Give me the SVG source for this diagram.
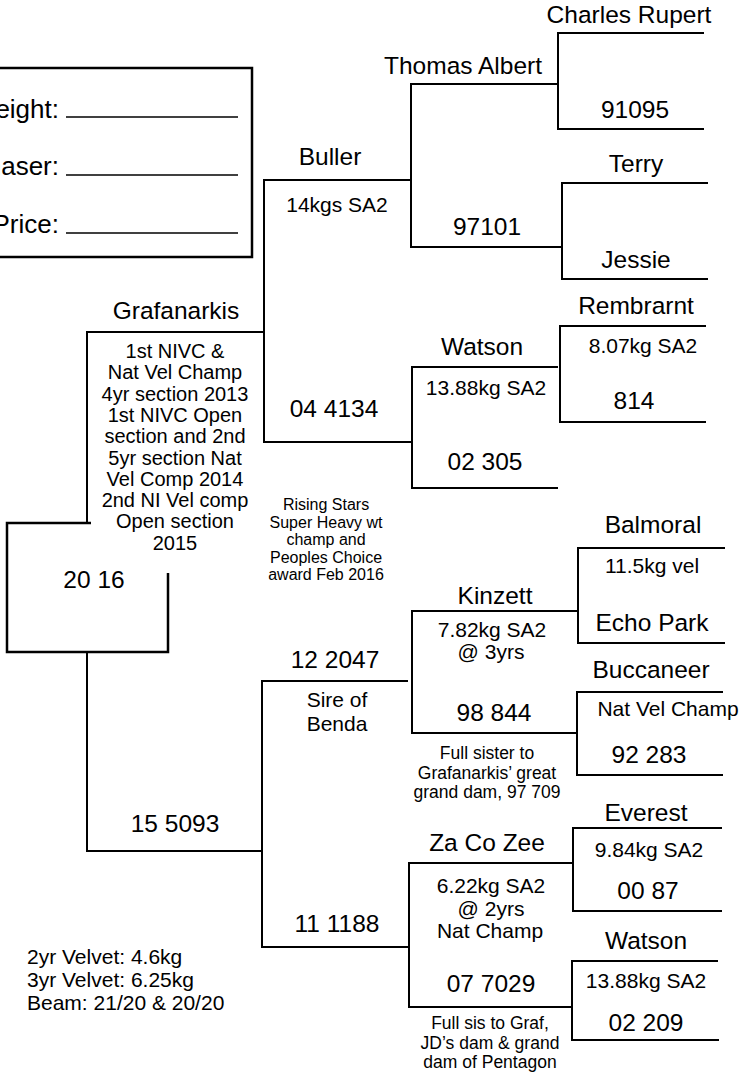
<svg xmlns="http://www.w3.org/2000/svg" width="744" height="1072" viewBox="0 0 744 1072">
<style>
text{font-family:"Liberation Sans",Arial,sans-serif;fill:#000;text-anchor:middle}
.b{font-size:24.5px}
.k{font-size:26px;text-anchor:end}
.m{font-size:21px}
.n{font-size:20px}
.s{font-size:16px}
.t{font-size:17.5px}
.l{font-size:21px;text-anchor:start}
.ln{fill:none;stroke:#000;stroke-width:2}
.bx{fill:none;stroke:#000;stroke-width:2.5}
.ul{stroke:#000;stroke-width:1.3}
</style>
<rect width="744" height="1072" fill="#fff"/>
<g id="info-box">
<rect class="bx" x="-10" y="68" width="262" height="189"/>
<text class="k" x="59" y="118">Weight:</text>
<line class="ul" x1="66" y1="117" x2="238" y2="117"/>
<text class="k" x="59" y="175">Purchaser:</text>
<line class="ul" x1="66" y1="175" x2="238" y2="175"/>
<text class="k" x="59" y="233">Price:</text>
<line class="ul" x1="66" y1="233" x2="238" y2="233"/>
</g>
<g id="connectors">
<path class="ln" d="M264 332H87V523"/>
<path class="bx" d="M91 523H7V652H168V573"/>
<path class="ln" d="M87 652V851H262"/>
<path class="ln" d="M410 180H264V442H411"/>
<path class="ln" d="M557 84H411V247H562"/>
<path class="ln" d="M704 33H558V129H704"/>
<path class="ln" d="M708 183H562V279H708"/>
<path class="ln" d="M558 367H412V488H558"/>
<path class="ln" d="M706 326H560V422H706"/>
<path class="ln" d="M408 681H262V947H409"/>
<path class="ln" d="M578 611H412V733H577"/>
<path class="ln" d="M725 548H578V643H725"/>
<path class="ln" d="M723 692H577V775H723"/>
<path class="ln" d="M573 863H409V1007H572"/>
<path class="ln" d="M722 828H573V911H722"/>
<path class="ln" d="M718 961H572V1040H719"/>
</g>
<g id="grafanarkis">
<text class="b" x="176" y="319">Grafanarkis</text>
<text class="n" x="175"><tspan x="175" y="358">1st NIVC &amp;</tspan><tspan x="175" y="379.3">Nat Vel Champ</tspan><tspan x="175" y="400.6">4yr section 2013</tspan><tspan x="175" y="421.9">1st NIVC Open</tspan><tspan x="175" y="443.2">section and 2nd</tspan><tspan x="175" y="464.5">5yr section Nat</tspan><tspan x="175" y="485.8">Vel Comp 2014</tspan><tspan x="175" y="507.1">2nd NI Vel comp</tspan><tspan x="175" y="528.4">Open section</tspan><tspan x="175" y="549.7">2015</tspan></text>
<text class="b" x="94" y="588">20 16</text>
</g>
<g id="buller">
<text class="b" x="330" y="165">Buller</text>
<text class="m" x="337" y="212">14kgs SA2</text>
<text class="b" x="334" y="417">04 4134</text>
<text class="s"><tspan x="326" y="510">Rising Stars</tspan><tspan x="326" y="527.5">Super Heavy wt</tspan><tspan x="326" y="545">champ and</tspan><tspan x="326" y="562.5">Peoples Choice</tspan><tspan x="326" y="580">award Feb 2016</tspan></text>
</g>
<g id="thomas-albert">
<text class="b" x="463" y="74">Thomas Albert</text>
<text class="b" x="487" y="235">97101</text>
</g>
<g id="charles-rupert">
<text class="b" x="629" y="23">Charles Rupert</text>
<text class="b" x="635" y="118">91095</text>
</g>
<g id="terry">
<text class="b" x="636" y="172">Terry</text>
<text class="b" x="636" y="268">Jessie</text>
</g>
<g id="watson-top">
<text class="b" x="482" y="355">Watson</text>
<text class="m" x="486" y="395">13.88kg SA2</text>
<text class="b" x="485" y="470">02 305</text>
</g>
<g id="rembrarnt">
<text class="b" x="636" y="314">Rembrarnt</text>
<text class="m" x="643" y="353">8.07kg SA2</text>
<text class="b" x="634" y="409">814</text>
</g>
<g id="dam-15-5093">
<text class="b" x="175" y="832">15 5093</text>
<text class="l"><tspan x="27" y="964">2yr Velvet: 4.6kg</tspan><tspan x="27" y="987">3yr Velvet: 6.25kg</tspan><tspan x="27" y="1010">Beam: 21/20 &amp; 20/20</tspan></text>
</g>
<g id="sire-12-2047">
<text class="b" x="335" y="668">12 2047</text>
<text class="m"><tspan x="337" y="707">Sire of</tspan><tspan x="337" y="731">Benda</tspan></text>
</g>
<g id="kinzett">
<text class="b" x="495" y="604">Kinzett</text>
<text class="m"><tspan x="492" y="637">7.82kg SA2</tspan><tspan x="491" y="659">@ 3yrs</tspan></text>
<text class="b" x="494" y="721">98 844</text>
<text class="t"><tspan x="487" y="759">Full sister to</tspan><tspan x="487" y="778.5">Grafanarkis’ great</tspan><tspan x="487" y="798">grand dam, 97 709</tspan></text>
</g>
<g id="balmoral">
<text class="b" x="653" y="533">Balmoral</text>
<text class="m" x="652" y="573">11.5kg vel</text>
<text class="b" x="652" y="631">Echo Park</text>
</g>
<g id="buccaneer">
<text class="b" x="651" y="678">Buccaneer</text>
<text class="m" x="668" y="716">Nat Vel Champ</text>
<text class="b" x="649" y="763">92 283</text>
</g>
<g id="dam-11-1188">
<text class="b" x="337" y="932">11 1188</text>
</g>
<g id="za-co-zee">
<text class="b" x="487" y="851">Za Co Zee</text>
<text class="m"><tspan x="491" y="893">6.22kg SA2</tspan><tspan x="491" y="916">@ 2yrs</tspan><tspan x="490" y="938">Nat Champ</tspan></text>
<text class="b" x="491" y="992">07 7029</text>
<text class="t"><tspan x="490" y="1029">Full sis to Graf,</tspan><tspan x="490" y="1048.5">JD’s dam &amp; grand</tspan><tspan x="490" y="1068">dam of Pentagon</tspan></text>
</g>
<g id="everest">
<text class="b" x="646" y="821">Everest</text>
<text class="m" x="649" y="857">9.84kg SA2</text>
<text class="b" x="648" y="899">00 87</text>
</g>
<g id="watson-bottom">
<text class="b" x="646" y="949">Watson</text>
<text class="m" x="646" y="988">13.88kg SA2</text>
<text class="b" x="646" y="1031">02 209</text>
</g>
</svg>
